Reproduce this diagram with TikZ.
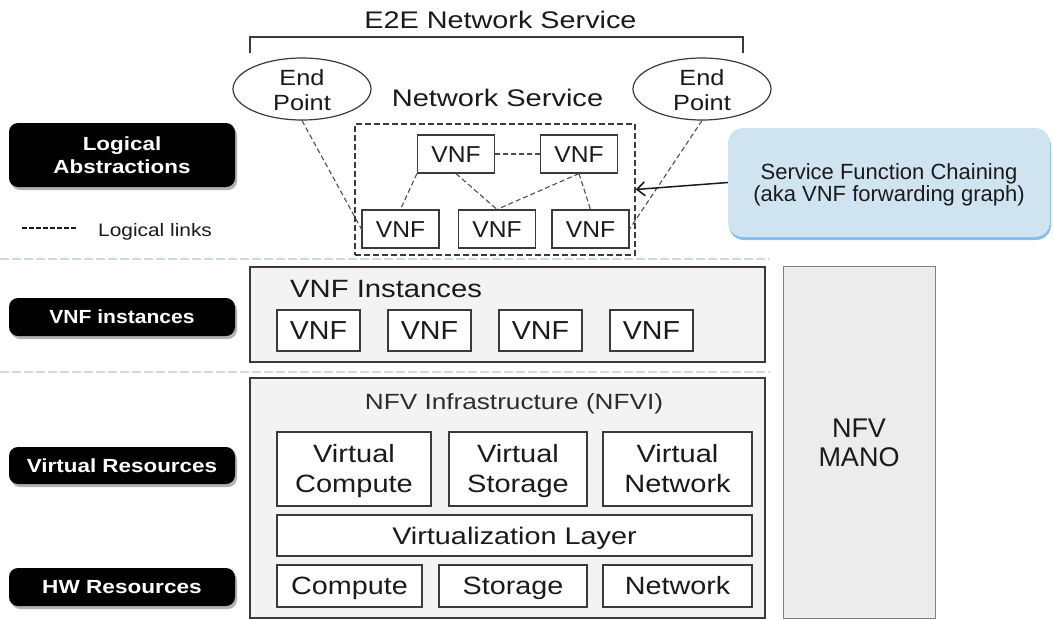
\documentclass[tikz,border=0pt]{standalone}
\usepackage{fontspec}
\setmainfont{Liberation Sans}
\usepackage{graphicx}
\usetikzlibrary{arrows.meta,shapes.geometric,shadows,calc}
\newcommand{\sx}[2]{\scalebox{#1}[1]{#2}}
% #1 = horizontal stretch, #2 = lines; baseline = first line
\newcommand{\sxx}[2]{\scalebox{#1}[1]{\begin{tabular}[t]{@{}c@{}}#2\end{tabular}}}
\definecolor{ink}{HTML}{1A1A1A}
\definecolor{boxline}{HTML}{3A3A3A}
\definecolor{panel}{HTML}{F3F3F3}
\definecolor{manofill}{HTML}{ECECEC}
\definecolor{sfcfill}{HTML}{D0E3F1}
\definecolor{sfcedge}{HTML}{86BFEA}
\definecolor{sepcol}{HTML}{CDD8E0}
\begin{document}
\begin{tikzpicture}[x=1pt,y=-1pt,
  txt/.style={inner sep=0pt, text=ink},
  one/.style={text height=#1, text depth=0pt},
  two/.style 2 args={text height=#1, text depth=#2},
  panelbox/.style={draw=boxline, line width=1.4pt, fill=panel, inner sep=0pt},
  wbox/.style={draw=boxline, line width=1.2pt, fill=white, inner sep=0pt, text=ink},
  vnfa/.style={wbox, one=16.5pt, minimum width=77pt, minimum height=38pt, font=\fontsize{23}{26}\selectfont},
  vnfb/.style={wbox, one=18.6pt, minimum width=83pt, minimum height=41pt, font=\fontsize{26}{30}\selectfont},
  endpt/.style={ellipse, draw=boxline, line width=1.2pt, fill=white, minimum width=138pt, minimum height=62pt, inner sep=0pt},
  eptext/.style={txt, two={15.75pt}{25pt}, yshift=-1.5pt, font=\fontsize{22}{25}\selectfont},
  link/.style={draw=boxline!90, line width=1.1pt, dash pattern=on 5pt off 3pt},
  blk/.style={fill=black, rounded corners=9pt, minimum width=226pt, inner sep=0pt, text=white,
     drop shadow={shadow xshift=2pt, shadow yshift=-3pt, fill=gray, opacity=0.6}},
  sep/.style={draw=sepcol, line width=1.5pt, dash pattern=on 9pt off 3pt},
  res/.style={wbox, font=\fontsize{25}{30}\selectfont}
]
\fill[white] (0,0) rectangle (1053,619);
\useasboundingbox (0,0) rectangle (1053,619);

% separators
\coordinate (s1a) at (0,259); \coordinate (s1b) at (770,259);
\coordinate (s2a) at (0,372); \coordinate (s2b) at (770,372);
\draw[sep] (s1a) -- (s1b);
\draw[sep] (s2a) -- (s2b);

% title and bracket
\node[txt, one=17.2pt, font=\fontsize{24}{28}\selectfont] (e2e) at (500.5,20) {\sx{1.2}{E2E Network Service}};
\coordinate (bl) at (250,53); \coordinate (br) at (743,53);
\draw[draw=boxline, line width=1.5pt] (bl) -- (250,37) -- (743,37) -- (br);

% end points
\node[endpt, label={[eptext]center:{\sxx{1.15}{End\\Point}}}] (ep1) at (302,89) {};
\node[endpt, label={[eptext]center:{\sxx{1.15}{End\\Point}}}] (ep2) at (702,89) {};

% network service
\node[txt, one=17.2pt, font=\fontsize{24}{28}\selectfont] (ns) at (497.5,98) {\sx{1.21}{Network Service}};
\node[draw=boxline, line width=1.5pt, dash pattern=on 6pt off 3pt, minimum width=280pt, minimum height=131pt, inner sep=0pt] (nsb) at (495,189.5) {};
\node[vnfa] (v1) at (456,154) {\sx{1.07}{VNF}};
\node[vnfa] (v2) at (579,154) {\sx{1.07}{VNF}};
\node[vnfa] (v3) at (400.5,229) {\sx{1.07}{VNF}};
\node[vnfa] (v4) at (497,229) {\sx{1.07}{VNF}};
\node[vnfa] (v5) at (590.5,229) {\sx{1.07}{VNF}};
\draw[link] (v1) -- (v2);
\draw[link] (v1.south west) -- (v3.north);
\draw[link] (v1.south) -- (v4.north);
\draw[link] (v2.south) -- (v4.north);
\draw[link] (v2.south) -- (v5.north);
\draw[link] (ep1.south) -- (v3.west);
\draw[link] (ep2.south) -- (v5.east);

% SFC callout
\node[fill=sfcfill, rounded corners=15pt, minimum width=322pt, minimum height=109pt, inner sep=0pt,
      drop shadow={shadow xshift=1pt, shadow yshift=-3pt, fill=sfcedge, opacity=1},
      two={15.75pt}{22pt}, text=ink, font=\fontsize{22}{22}\selectfont] (sfc) at (889,182.5)
      {\sxx{1}{Service Function Chaining\\(aka VNF forwarding graph)}};
\draw[line width=1.5pt, ink, -{Straight Barb[length=8pt,width=14pt,line width=1.5pt]}] (sfc.west) -- (nsb.east);

% left labels
\node[blk, two={13.6pt}{23pt}, minimum height=64pt, font=\bfseries\fontsize{19}{23}\selectfont] (la) at (122,155) {\sxx{1.18}{Logical\\Abstractions}};
\coordinate (lg1) at (22,228); \coordinate (lg2) at (77,228);
\draw[ink, line width=1.6pt, dash pattern=on 4.5pt off 2.5pt] (lg1) -- (lg2);
\node[txt, one=12.9pt, font=\fontsize{18}{21}\selectfont, anchor=west] (ll) at (98,230) {\sx{1.16}{Logical links}};
\node[blk, one=13.6pt, minimum height=38pt, font=\bfseries\fontsize{19}{23}\selectfont] (vi) at (122,317) {\sx{1.11}{VNF instances}};
\node[blk, one=13.6pt, minimum height=37pt, font=\bfseries\fontsize{19}{23}\selectfont] (vr) at (122,465.5) {\sx{1.18}{Virtual Resources}};
\node[blk, one=13.6pt, minimum height=38pt, font=\bfseries\fontsize{19}{23}\selectfont] (hw) at (122,587) {\sx{1.19}{HW Resources}};

% VNF instances panel
\node[panelbox, minimum width=515pt, minimum height=95pt] (vip) at (507.5,314.5) {};
\node[txt, one=17.9pt, font=\fontsize{25}{30}\selectfont, anchor=west] (vih) at (290,289) {\sx{1.17}{VNF Instances}};
\node[vnfb] (i1) at (318.5,330.5) {\sx{1.1}{VNF}};
\node[vnfb] (i2) at (429.5,330.5) {\sx{1.1}{VNF}};
\node[vnfb] (i3) at (540.5,330.5) {\sx{1.1}{VNF}};
\node[vnfb] (i4) at (651.5,330.5) {\sx{1.1}{VNF}};

% MANO
\node[draw=gray, line width=1pt, fill=manofill, minimum width=152pt, minimum height=352pt, inner sep=0pt,
      two={19.3pt}{29pt}, text=ink, font=\fontsize{27}{29}\selectfont] (mano) at (859,442)
      {\sxx{1}{NFV\\MANO}};

% NFVI panel
\node[panelbox, minimum width=515pt, minimum height=240pt] (nfvi) at (507.5,498) {};
\node[txt, one=15.75pt, font=\fontsize{22}{26}\selectfont, text=ink!92] (nfvih) at (514,402) {\sx{1.19}{NFV Infrastructure (NFVI)}};
\node[res, two={17.9pt}{30pt}, minimum width=154pt, minimum height=74pt] (vc) at (354,469) {\sxx{1.16}{Virtual\\Compute}};
\node[res, two={17.9pt}{30pt}, minimum width=138pt, minimum height=74pt] (vs) at (518,469) {\sxx{1.16}{Virtual\\Storage}};
\node[res, two={17.9pt}{30pt}, minimum width=149pt, minimum height=74pt] (vn) at (677.5,469) {\sxx{1.16}{Virtual\\Network}};
\node[wbox, one=17.2pt, minimum width=475pt, minimum height=41pt, font=\fontsize{24}{28}\selectfont] (vl) at (514.5,535.5) {\sx{1.2}{Virtualization Layer}};
\node[res, one=17.9pt, minimum width=145pt, minimum height=42pt] (hc) at (349.5,586) {\sx{1.15}{Compute}};
\node[res, one=17.9pt, minimum width=148pt, minimum height=42pt] (hs) at (513,586) {\sx{1.15}{Storage}};
\node[res, one=17.9pt, minimum width=149pt, minimum height=42pt] (hn) at (677.5,586) {\sx{1.15}{Network}};
\end{tikzpicture}
\end{document}
